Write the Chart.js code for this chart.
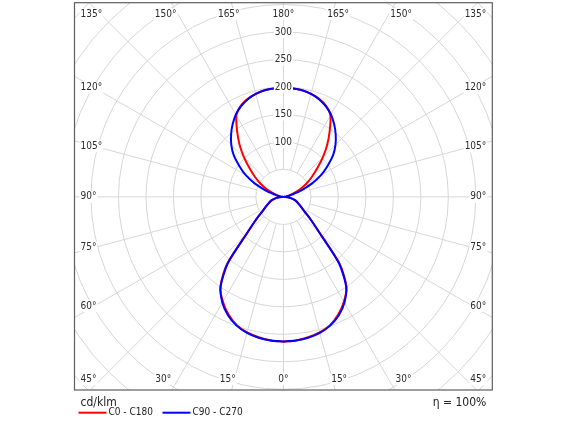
<!DOCTYPE html>
<html>
<head>
<meta charset="utf-8">
<script src="https://cdn.jsdelivr.net/npm/chart.js@4.4.0/dist/chart.umd.min.js"></script>
<style>
  html, body { margin: 0; padding: 0; background: #fff; }
  #wrap { width: 567px; height: 425px; }
</style>
</head>
<body>
<div id="wrap"><canvas id="chart"></canvas></div>
<script>
// gamma angles (0 = down, 180 = up), cd/klm
const gammas = [0, 5, 10, 15, 20, 25, 30, 35, 40, 45, 50, 55, 60, 65, 70, 75, 80, 85, 90,
  95, 100, 105, 110, 115, 120, 125, 130, 135, 140, 145, 150, 155, 160, 165, 170, 175, 180];
const c0c180 = [263, 262, 259, 255, 248, 236, 220, 200, 160, 95, 66, 48, 38, 31, 26, 21, 15, 8, 1,
  4, 7, 12, 21, 34, 48, 63, 80, 101, 124, 147, 171, 183, 190, 194, 197, 198, 198];
const c90c270 = [263, 262, 260, 256, 249, 238, 222, 199, 157, 94, 66, 48, 38, 31, 26, 21, 15, 8, 1,
  5, 9, 16, 34, 57, 79, 98, 118, 134, 148, 161, 173, 182, 189, 194, 197, 198, 198];

const ringValues = [50, 100, 150, 200, 250, 300, 350, 400, 450, 500];
const ringLabels = [100, 150, 200, 250, 300];
const angleTicks = [0, 15, 30, 45, 60, 75, 90, 105, 120, 135, 150, 165, 180];
const unitLabel = 'cd/klm';
const efficiencyLabel = 'η = 100%';

const FONT = '"DejaVu Sans Condensed", "DejaVu Sans", sans-serif';

// left half = C180 / C270, right half = C0 / C90, closed loop
function toPolarLoop(values) {
  const pts = [];
  for (let i = gammas.length - 1; i >= 0; i--) {
    const g = gammas[i] * Math.PI / 180;
    pts.push({ x: -values[i] * Math.sin(g), y: -values[i] * Math.cos(g) });
  }
  for (let i = 0; i < gammas.length; i++) {
    const g = gammas[i] * Math.PI / 180;
    pts.push({ x: values[i] * Math.sin(g), y: -values[i] * Math.cos(g) });
  }
  return pts;
}

function labelBox(ctx, text, x, y, align) {
  const w = ctx.measureText(text).width;
  let left = x - w / 2;
  if (align === 'left') left = x;
  if (align === 'right') left = x - w;
  ctx.fillStyle = '#fff';
  ctx.fillRect(left - 1, y - 6, w + 2, 12);
  ctx.fillStyle = '#2b2b2b';
  ctx.textAlign = align;
  ctx.fillText(text, x, y);
}

const polarGrid = {
  id: 'polarGrid',
  beforeDatasetsDraw(chart) {
    const { ctx, chartArea: a, scales: { x, y } } = chart;
    const cx = x.getPixelForValue(0);
    const cy = y.getPixelForValue(0);
    const k = x.getPixelForValue(1) - cx;
    ctx.save();
    ctx.beginPath();
    ctx.rect(a.left, a.top, a.right - a.left, a.bottom - a.top);
    ctx.clip();
    ctx.strokeStyle = '#d6d6d6';
    ctx.lineWidth = 1;
    ringValues.forEach(v => {
      ctx.beginPath();
      ctx.arc(cx, cy, v * k, 0, Math.PI * 2);
      ctx.stroke();
    });
    const r0 = ringValues[0] * k;
    for (let d = 0; d < 360; d += 15) {
      const t = d * Math.PI / 180;
      ctx.beginPath();
      ctx.moveTo(cx + r0 * Math.sin(t), cy + r0 * Math.cos(t));
      ctx.lineTo(cx + 800 * Math.sin(t), cy + 800 * Math.cos(t));
      ctx.stroke();
    }
    ctx.restore();
  },
  afterDatasetsDraw(chart) {
    const { ctx, chartArea: a, scales: { x, y } } = chart;
    const cx = x.getPixelForValue(0);
    const cy = y.getPixelForValue(0);
    const k = x.getPixelForValue(1) - cx;
    ctx.save();
    ctx.font = '10px ' + FONT;
    ctx.textBaseline = 'middle';

    ringLabels.forEach(v => labelBox(ctx, String(v), cx, cy - v * k, 'center'));

    // angle labels sit where the spoke meets the frame
    const W = 189, Htop = 204, Hbot = 208;
    [-1, 1].forEach(side => {
      angleTicks.forEach(g => {
        if (side === 1 && (g === 0 || g === 180)) return;
        const t = g * Math.PI / 180;
        const dx = side * Math.sin(t);
        const dy = Math.cos(t);
        const H = dy < 0 ? Htop : Hbot;
        const tx = Math.abs(dx) > 1e-6 ? W / Math.abs(dx) : Infinity;
        const ty = Math.abs(dy) > 1e-6 ? H / Math.abs(dy) : Infinity;
        const text = g + '°';
        const yTop = a.top + 11.3, yBot = a.bottom - 11;
        if (tx <= ty) {
          const ly = Math.min(Math.max(cy + dy * tx, yTop), yBot);
          if (side < 0) labelBox(ctx, text, a.left + 6, ly, 'left');
          else labelBox(ctx, text, a.right - 6, ly, 'right');
        } else {
          const lx = cx + dx * ty;
          labelBox(ctx, text, lx, dy < 0 ? yTop : yBot, 'center');
        }
      });
    });

    ctx.strokeStyle = '#5e5e5e';
    ctx.lineWidth = 1.2;
    ctx.strokeRect(a.left, a.top, a.right - a.left, a.bottom - a.top);
    ctx.restore();
  },
  afterDraw(chart) {
    const { ctx, chartArea: a } = chart;
    ctx.save();
    ctx.textBaseline = 'middle';
    ctx.fillStyle = '#222';
    ctx.font = '12px ' + FONT;
    ctx.textAlign = 'left';
    ctx.fillText(unitLabel, a.left + 6, a.bottom + 12.5);
    ctx.textAlign = 'right';
    ctx.fillText(efficiencyLabel, a.right - 6, a.bottom + 13.3);

    ctx.font = '10px ' + FONT;
    ctx.textAlign = 'left';
    let lx = a.left + 4;
    const ly = a.bottom + 22.7;
    chart.data.datasets.forEach(ds => {
      ctx.strokeStyle = ds.borderColor;
      ctx.lineWidth = 2;
      ctx.beginPath();
      ctx.moveTo(lx, ly);
      ctx.lineTo(lx + 28, ly);
      ctx.stroke();
      ctx.fillStyle = '#222';
      ctx.fillText(ds.label, lx + 30, ly);
      lx = a.left + 88;
    });
    ctx.restore();
  }
};

new Chart(document.getElementById('chart'), {
  type: 'scatter',
  data: {
    datasets: [
      {
        label: 'C0 - C180',
        data: toPolarLoop(c0c180),
        borderColor: '#ff0000',
        order: 2
      },
      {
        label: 'C90 - C270',
        data: toPolarLoop(c90c270),
        borderColor: '#0000ff',
        order: 1
      }
    ]
  },
  options: {
    responsive: true,
    maintainAspectRatio: false,
    animation: false,
    showLine: true,
    elements: {
      point: { radius: 0, hoverRadius: 0 },
      line: { borderWidth: 2, tension: 0.25, fill: false }
    },
    layout: { padding: { left: 74.5, right: 74.7, top: 2.7, bottom: 35 } },
    scales: {
      x: { type: 'linear', display: false, min: -380, max: 380 },
      y: { type: 'linear', display: false, min: -351, max: 353 }
    },
    plugins: {
      legend: { display: false },
      tooltip: { enabled: false }
    }
  },
  plugins: [polarGrid]
});
</script>
</body>
</html>
